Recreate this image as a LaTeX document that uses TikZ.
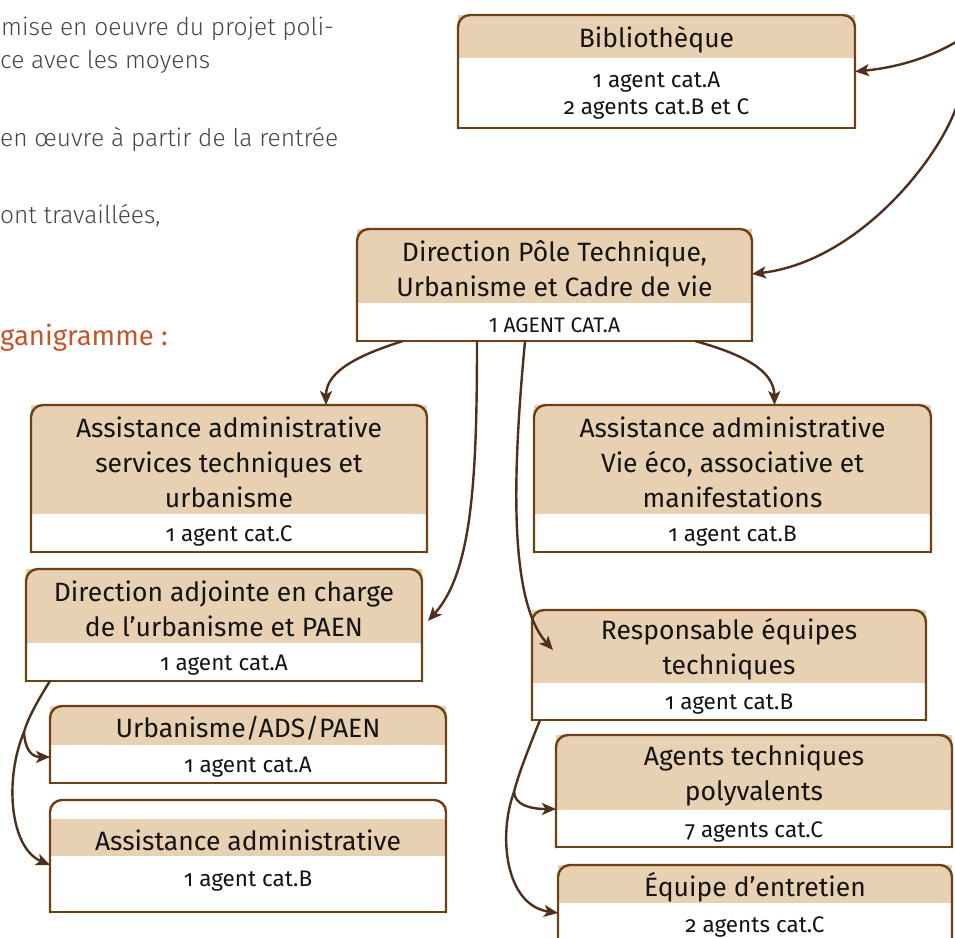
\documentclass[tikz,border=0pt]{standalone}
\usepackage{fontspec}
\setmainfont{Fira Sans}[Numbers=OldStyle]
\newfontfamily\lightfont{Fira Sans Light}[Numbers=OldStyle]
\usetikzlibrary{arrows.meta,fit}

\definecolor{headtan}{RGB}{232,209,178}
\definecolor{framebrown}{RGB}{110,64,22}
\definecolor{linkbrown}{RGB}{78,48,28}
\definecolor{prosegray}{RGB}{70,70,70}
\definecolor{titlered}{RGB}{196,84,44}
\definecolor{inkblack}{RGB}{20,20,20}

\tikzset{
  orgframe/.style={draw=framebrown, line width=2.4pt, line cap=rect},
  titletext/.style={font=\fontsize{26.5}{35}\selectfont, text=inkblack, align=center, inner sep=0pt},
  bodytext/.style={font=\fontsize{22.5}{27}\selectfont, text=inkblack, align=center, inner sep=0pt},
  prose/.style={font=\lightfont\fontsize{24.5}{28}\selectfont, text=prosegray, inner sep=0pt, anchor=base west},
  linkline/.style={draw=linkbrown, line width=2.4pt},
  linkarrow/.style={linkline, -{Stealth[length=14pt,width=12pt,inset=3.5pt]}},
  asb-bodyshift/.style={yshift=6pt}
}

% box: name, left, top, right, bottom, head top, head bottom, title, body
\newcommand{\orgbox}[9]{%
  \node[fit={(#2,#3) (#4,#5)}, inner sep=0pt, outer sep=0pt] (#1) {};
  \fill[headtan] (#2,#6) rectangle (#4,#7);
  \draw[orgframe, rounded corners=12pt] (#1.south west) -- (#1.north west) -- (#1.north east) -- (#1.south east);
  \draw[orgframe] (#1.south west) -- (#1.south east);
  \node[titletext] (#1-title) at ({(#2+#4)/2},{(#6+#7)/2+3}) {#8};
  \node[bodytext, #1-bodyshift/.try] (#1-body) at ({(#2+#4)/2},{(#7+#5)/2+3}) {#9};
}

\begin{document}
\begin{tikzpicture}[x=1pt,y=1pt,yscale=-1,xscale=1]
\useasboundingbox (0,0) rectangle (955,937);

% Text Node
\node[prose] (txt1) at (1,35) {mise en oeuvre du projet poli-};
% Text Node
\node[prose] (txt2) at (0,68) {ce avec les moyens};
% Text Node
\node[prose] (txt3) at (0,146) {en œuvre à partir de la rentrée};
% Text Node
\node[prose] (txt4) at (0,223) {ont travaillées,};
% Text Node
\node[prose, font=\fontsize{27.5}{30}\selectfont, text=titlered] (txt5) at (0,345) {ganigramme :};

% Boxes
\orgbox{bib}{458}{15}{855}{128}{15}{58}{Bibliothèque}{1 agent cat.A\\2 agents cat.B et C}
\orgbox{dir}{357}{229}{752}{341}{229}{303}{Direction Pôle Technique,\\Urbanisme et Cadre de vie}{\addfontfeature{Numbers=Lining}\fontsize{21}{24}\selectfont 1 AGENT CAT.A}
\orgbox{ast}{31}{405}{427}{552}{405}{514}{Assistance administrative\\services techniques et\\urbanisme}{1 agent cat.C}
\orgbox{vie}{534}{405}{931}{552}{405}{514}{Assistance administrative\\Vie éco, associative et\\manifestations}{1 agent cat.B}
\orgbox{dadj}{26}{569}{422}{681}{569}{643}{Direction adjointe en charge\\de l’urbanisme et PAEN}{1 agent cat.A}
\orgbox{resp}{532}{610}{926}{720}{610}{683}{Responsable équipes\\techniques}{1 agent cat.B}
\orgbox{urb}{50}{706}{446}{783}{706}{745}{Urbanisme/ADS/PAEN}{1 agent cat.A}
\orgbox{asb}{50}{800}{446}{912}{819}{856}{Assistance administrative}{1 agent cat.B}
\orgbox{agt}{556}{735}{952}{847}{735}{810}{Agents techniques\\polyvalents}{7 agents cat.C}
\orgbox{equ}{558}{865}{952}{945}{865}{903}{Équipe d’entretien}{2 agents cat.C}

% Free ends and branch points
\coordinate (topA) at (956,42);
\coordinate (topB) at (956,108);
\coordinate (gbr) at (24,732);
\coordinate (hbr) at (514,792);

% Curve Lines
\draw[linkarrow] (topA) .. controls (925,60) and (892,68) .. (bib.east);
\draw[linkarrow] (topB) .. controls (935,165) and (855,262) .. ([yshift=-11pt]dir.east);
\draw[linkarrow] ([xshift=46pt]dir.south west) .. controls (362,354) and (326,370) .. ([xshift=97pt]ast.north);
\draw[linkarrow] ([xshift=-57pt]dir.south east) .. controls (742,354) and (774,370) .. ([xshift=42pt]vie.north);
\draw[linkarrow] ([xshift=120pt]dir.south west) .. controls (477,480) and (472,572) .. ([xshift=6pt,yshift=-4pt]dadj.east);
\draw[linkarrow] ([xshift=168pt]dir.south west) .. controls (513,470) and (508,600) .. ([xshift=21pt,yshift=40pt]resp.north west);

% Curve Lines
\draw[linkline] ([xshift=24pt]dadj.south west) .. controls (38,700) and (28,718) .. (gbr);
\draw[linkarrow] (gbr) .. controls (25,750) and (32,757) .. ([yshift=12.5pt]urb.west);
\draw[linkarrow] (gbr) .. controls (4,780) and (10,848) .. ([yshift=9pt]asb.west);

% Curve Lines
\draw[linkline] ([xshift=8pt]resp.south west) .. controls (530,745) and (518,775) .. (hbr);
\draw[linkarrow] (hbr) .. controls (515,805) and (530,809) .. ([yshift=18pt]agt.west);
\draw[linkarrow] (hbr) .. controls (498,835) and (505,905) .. ([yshift=8pt]equ.west);

\end{tikzpicture}
\end{document}
